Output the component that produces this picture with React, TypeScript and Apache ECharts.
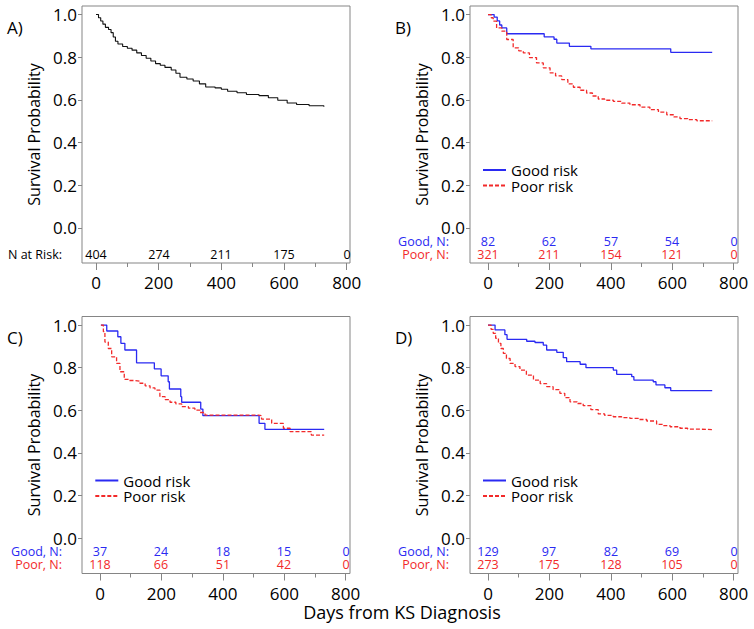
import React, { useEffect, useRef } from 'react';
import * as echarts from 'echarts';

const FONT = '"Open Sans", "Noto Sans", sans-serif';

const panelLetters = ['A)', 'B)', 'C)', 'D)'];
const xTicks = [0, 200, 400, 600, 800];
const xMinorTicks = [100, 300, 500, 700];
const yTicks = [0, 0.2, 0.4, 0.6, 0.8, 1.0];
const riskDays = [0, 200, 400, 600, 800];
const legendNames = ['Good risk', 'Poor risk'];

// Panel A: overall
const aDays = [0, 8, 15, 22, 30, 40, 48, 55, 62, 70, 85, 100, 115, 130, 145, 160, 175, 190, 205, 220, 240, 255, 268, 290, 310, 330, 350, 380, 400, 420, 450, 480, 520, 550, 580, 610, 640, 680, 727];
const aSurv = [1.0, 0.985, 0.97, 0.955, 0.94, 0.93, 0.915, 0.895, 0.875, 0.862, 0.85, 0.842, 0.833, 0.82, 0.808, 0.795, 0.782, 0.77, 0.762, 0.752, 0.74, 0.725, 0.706, 0.698, 0.688, 0.675, 0.66, 0.656, 0.65, 0.64, 0.633, 0.625, 0.62, 0.61, 0.598, 0.585, 0.578, 0.572, 0.568];
const aRisk = [404, 274, 211, 175, 0];

// Panel B
const bGoodDays = [0, 20, 30, 38, 45, 61, 183, 215, 224, 265, 335, 595, 730];
const bGoodSurv = [1.0, 0.988, 0.97, 0.951, 0.937, 0.91, 0.895, 0.884, 0.866, 0.851, 0.839, 0.823, 0.823];
const bPoorDays = [0, 10, 17, 28, 45, 61, 82, 100, 115, 135, 158, 180, 202, 220, 240, 260, 278, 300, 321, 340, 359, 380, 408, 435, 462, 495, 527, 555, 582, 605, 625, 650, 680, 730];
const bPoorSurv = [1.0, 0.985, 0.969, 0.937, 0.922, 0.883, 0.844, 0.83, 0.82, 0.798, 0.773, 0.75, 0.726, 0.712, 0.695, 0.675, 0.659, 0.645, 0.632, 0.618, 0.604, 0.598, 0.593, 0.585, 0.577, 0.566, 0.554, 0.542, 0.53, 0.52, 0.512, 0.507, 0.502, 0.5];
const bGoodRisk = [82, 62, 57, 54, 0];
const bPoorRisk = [321, 211, 154, 121, 0];

// Panel C
const cGoodDays = [3, 22, 58, 68, 81, 119, 177, 199, 222, 226, 263, 266, 328, 335, 518, 537, 730];
const cGoodSurv = [1.0, 0.972, 0.945, 0.914, 0.883, 0.823, 0.794, 0.762, 0.734, 0.7, 0.664, 0.638, 0.606, 0.575, 0.539, 0.511, 0.511];
const cPoorDays = [3, 11, 16, 27, 38, 54, 65, 79, 95, 114, 130, 147, 163, 179, 195, 212, 228, 247, 266, 288, 309, 325, 342, 516, 526, 559, 597, 619, 688, 730];
const cPoorSurv = [1.0, 0.969, 0.92, 0.89, 0.851, 0.82, 0.781, 0.745, 0.74, 0.737, 0.727, 0.715, 0.705, 0.695, 0.664, 0.65, 0.638, 0.63, 0.617, 0.61, 0.601, 0.59, 0.578, 0.575, 0.559, 0.539, 0.516, 0.5, 0.484, 0.484];
const cGoodRisk = [37, 24, 18, 15, 0];
const cPoorRisk = [118, 66, 51, 42, 0];

// Panel D
const dGoodDays = [0, 23, 55, 62, 126, 153, 180, 191, 224, 245, 256, 300, 319, 408, 419, 468, 475, 538, 547, 576, 595, 730];
const dGoodSurv = [1.0, 0.977, 0.955, 0.933, 0.924, 0.918, 0.906, 0.883, 0.872, 0.847, 0.828, 0.816, 0.8, 0.789, 0.769, 0.758, 0.742, 0.734, 0.719, 0.706, 0.692, 0.692];
const dPoorDays = [0, 10, 17, 25, 34, 42, 50, 60, 72, 88, 104, 125, 148, 170, 191, 212, 234, 250, 267, 290, 310, 335, 359, 380, 408, 435, 462, 490, 517, 549, 570, 593, 625, 650, 680, 730];
const dPoorSurv = [1.0, 0.98, 0.961, 0.938, 0.914, 0.89, 0.867, 0.843, 0.82, 0.805, 0.789, 0.765, 0.742, 0.725, 0.711, 0.697, 0.68, 0.66, 0.64, 0.632, 0.622, 0.603, 0.583, 0.576, 0.57, 0.566, 0.562, 0.557, 0.55, 0.534, 0.528, 0.523, 0.516, 0.512, 0.51, 0.505];
const dGoodRisk = [129, 97, 82, 69, 0];
const dPoorRisk = [273, 175, 128, 105, 0];

const BLUE = '#2a2af2';
const RED = '#f22a2a';
const GRAY = '#858585';

const zip = (xs: number[], ys: number[]) => {
  const n = Math.min(xs.length, ys.length);
  const out: number[][] = [];
  for (let i = 0; i < n; i++) out.push([xs[i], ys[i]]);
  return out;
};

export default function App() {
  const ref = useRef<HTMLDivElement>(null);
  useEffect(() => {
    if (!ref.current) return;
    const chart = echarts.init(ref.current, null, { renderer: 'svg' });

    const grids = [
      { left: 82, top: 6, width: 268, height: 257 },
      { left: 470, top: 6, width: 268, height: 257 },
      { left: 82, top: 316.5, width: 268, height: 257 },
      { left: 470, top: 316.5, width: 268, height: 257 },
    ];
    const xRanges = [
      [-44.7, 810.5],
      [-58.6, 814],
      [-58.6, 814],
      [-58.6, 814],
    ];

    const grid = grids.map((g) => ({ ...g, show: true, borderColor: GRAY, borderWidth: 1, backgroundColor: 'transparent' }));

    const xMain = grids.map((g, i) => ({
      type: 'value',
      gridIndex: i,
      position: 'bottom',
      min: xRanges[i][0],
      max: xRanges[i][1],
      axisLine: { show: false, onZero: false },
      axisTick: { show: true, length: 7, customValues: xTicks, lineStyle: { color: GRAY } },
      axisLabel: { customValues: xTicks, fontSize: 17, fontFamily: FONT, color: '#000', margin: 11 },
      splitLine: { show: false },
    }));
    const xMinor = grids.map((g, i) => ({
      type: 'value',
      gridIndex: i,
      position: 'top',
      offset: -257,
      min: xRanges[i][0],
      max: xRanges[i][1],
      axisLine: { show: false, onZero: false },
      axisTick: { show: true, inside: true, length: 4, customValues: xMinorTicks, lineStyle: { color: GRAY } },
      axisLabel: { show: false },
      splitLine: { show: false },
    }));

    const yAxis = grids.map((g, i) => ({
      type: 'value',
      gridIndex: i,
      min: -0.165,
      max: 1.04,
      name: 'Survival Probability',
      nameLocation: 'middle',
      nameGap: 40,
      nameTextStyle: { fontSize: 16, fontFamily: FONT, color: '#000' },
      axisLine: { show: false, onZero: false },
      axisTick: { show: true, length: 4, customValues: yTicks, lineStyle: { color: GRAY } },
      axisLabel: {
        customValues: yTicks,
        fontSize: 17,
        fontFamily: FONT,
        color: '#000',
        margin: 5,
        formatter: (v: number) => v.toFixed(1),
      },
      splitLine: { show: false },
    }));

    const km = (name: string, idx: number, days: number[], surv: number[], color: string, dashed: boolean, width: number) => ({
      type: 'line',
      name,
      xAxisIndex: idx,
      yAxisIndex: idx,
      step: 'end',
      symbol: 'none',
      showSymbol: false,
      data: zip(days, surv),
      lineStyle: { color, width, type: dashed ? [4, 2] : 'solid' },
      itemStyle: { color },
      z: 3,
    });

    const riskRow = (name: string, idx: number, counts: number[], rowY: number, color: string) => ({
      type: 'custom',
      name,
      xAxisIndex: idx,
      yAxisIndex: idx,
      silent: true,
      clip: false,
      encode: { x: 0, y: 1 },
      data: riskDays.map((d, k) => [d, rowY, counts[k]]),
      renderItem: (params: any, api: any) => {
        const pt = api.coord([api.value(0), api.value(1)]);
        return {
          type: 'text',
          x: Math.round(pt[0]),
          y: Math.round(pt[1]),
          style: {
            text: String(api.value(2)),
            fill: color,
            fontSize: 12.5,
            lineHeight: 12,
            fontFamily: FONT,
            align: 'center',
            verticalAlign: 'middle',
          },
        };
      },
    });

    const series: any[] = [
      km('Overall', 0, aDays, aSurv, '#111', false, 1.1),
      km('Good risk', 1, bGoodDays, bGoodSurv, BLUE, false, 1.3),
      km('Poor risk', 1, bPoorDays, bPoorSurv, RED, true, 1.3),
      km('Good risk', 2, cGoodDays, cGoodSurv, BLUE, false, 1.3),
      km('Poor risk', 2, cPoorDays, cPoorSurv, RED, true, 1.3),
      km('Good risk', 3, dGoodDays, dGoodSurv, BLUE, false, 1.3),
      km('Poor risk', 3, dPoorDays, dPoorSurv, RED, true, 1.3),
      riskRow('riskA', 0, aRisk, -0.122, '#000'),
      riskRow('riskBg', 1, bGoodRisk, -0.06, BLUE),
      riskRow('riskBp', 1, bPoorRisk, -0.121, RED),
      riskRow('riskCg', 2, cGoodRisk, -0.059, BLUE),
      riskRow('riskCp', 2, cPoorRisk, -0.12, RED),
      riskRow('riskDg', 3, dGoodRisk, -0.059, BLUE),
      riskRow('riskDp', 3, dPoorRisk, -0.12, RED),
    ];

    const mkLegend = (left: number, top: number) => ({
      left,
      top,
      orient: 'vertical',
      padding: 0,
      itemWidth: 23,
      itemHeight: 10,
      itemGap: 0.5,
      selectedMode: false,
      data: legendNames,
      itemStyle: { opacity: 0 },
      textStyle: { fontSize: 15, lineHeight: 14, fontFamily: FONT, color: '#000' },
    });

    const txt = (x: number, y: number, text: string, opts: any = {}) => ({
      type: 'text',
      x,
      y,
      style: {
        text,
        fontSize: opts.fontSize ?? 12.5,
        lineHeight: opts.lineHeight,
        fontFamily: FONT,
        fill: opts.fill ?? '#000',
        align: opts.align ?? 'left',
        verticalAlign: 'middle',
      },
    });

    const graphic = [
      txt(7, 27, panelLetters[0], { fontSize: 17 }),
      txt(395, 27, panelLetters[1], { fontSize: 17 }),
      txt(7, 337, panelLetters[2], { fontSize: 17 }),
      txt(395, 337, panelLetters[3], { fontSize: 17 }),
      txt(62, 254, 'N at Risk:', { align: 'right', lineHeight: 12 }),
      txt(449, 241, 'Good, N:', { align: 'right', fill: BLUE, lineHeight: 12 }),
      txt(449, 254, 'Poor, N:', { align: 'right', fill: RED, lineHeight: 12 }),
      txt(62, 551, 'Good, N:', { align: 'right', fill: BLUE, lineHeight: 12 }),
      txt(62, 564, 'Poor, N:', { align: 'right', fill: RED, lineHeight: 12 }),
      txt(449, 551, 'Good, N:', { align: 'right', fill: BLUE, lineHeight: 12 }),
      txt(449, 564, 'Poor, N:', { align: 'right', fill: RED, lineHeight: 12 }),
      txt(402, 612, 'Days from KS Diagnosis', { fontSize: 18, align: 'center' }),
    ];

    chart.setOption({
      animation: false,
      grid,
      xAxis: [...xMain, ...xMinor],
      yAxis,
      legend: [mkLegend(482, 162.5), mkLegend(94.3, 473), mkLegend(482, 473)],
      series,
      graphic,
    });

    return () => chart.dispose();
  }, []);

  return <div ref={ref} style={{ position: 'absolute', left: 0, top: 0, width: 754, height: 629 }} />;
}
